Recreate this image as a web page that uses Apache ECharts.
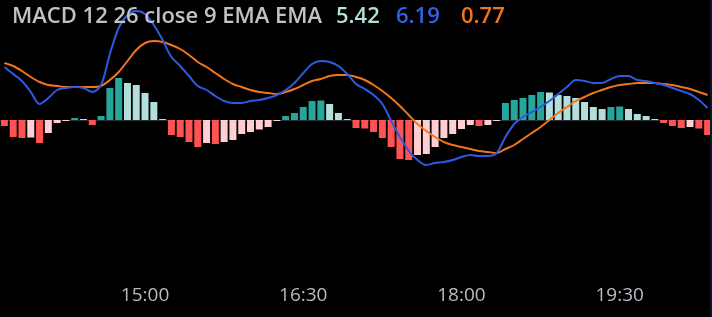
<!DOCTYPE html>
<html><head><meta charset="utf-8">
<script src="https://cdn.jsdelivr.net/npm/echarts@6/dist/echarts.min.js"></script>
<style>html,body{margin:0;padding:0;background:#000;}#c{width:712px;height:317px;}</style>
</head><body><div id="c"></div>
<script>
const times = ['13:40','13:45','13:50','13:55','14:00','14:05','14:10','14:15','14:20','14:25','14:30','14:35','14:40','14:45','14:50','14:55',
'15:00','15:05','15:10','15:15','15:20','15:25','15:30','15:35','15:40','15:45','15:50','15:55',
'16:00','16:05','16:10','16:15','16:20','16:25','16:30','16:35','16:40','16:45','16:50','16:55',
'17:00','17:05','17:10','17:15','17:20','17:25','17:30','17:35','17:40','17:45','17:50','17:55',
'18:00','18:05','18:10','18:15','18:20','18:25','18:30','18:35','18:40','18:45','18:50','18:55',
'19:00','19:05','19:10','19:15','19:20','19:25','19:30','19:35','19:40','19:45','19:50','19:55',
'20:00','20:05','20:10','20:15','20:20'];
const tickLabels = ['15:00','16:30','18:00','19:30'];
const histogram = [-0.6,-1.7,-1.8,-1.75,-2.3,-1.3,-0.3,-0.1,0.2,0.06,
-0.5,0.4,3.2,4.2,3.7,3.5,2.7,1.8,0.05,-1.5,
-1.7,-2.2,-2.7,-2.3,-2.4,-2.2,-2.0,-1.4,-1.2,-0.95,
-0.7,-0.1,0.4,0.7,1.3,1.9,1.95,1.6,0.7,0.05,
-0.8,-0.85,-1.2,-1.8,-2.7,-3.9,-4.0,-3.5,-3.4,-2.7,
-1.8,-1.4,-0.9,-0.5,-0.6,-0.5,-0.1,1.7,2.0,2.2,
2.5,2.8,2.75,2.5,2.4,2.2,1.8,1.3,1.1,1.3,
1.35,1.1,0.6,0.4,0.05,-0.3,-0.6,-0.8,-0.7,-0.85,-1.5];
const macdLine = [5.3,4.6,3.9,2.8,1.6,2.2,3.0,3.2,3.3,3.2,
2.8,3.5,6.6,9.2,10.5,10.9,10.6,9.5,8.0,6.3,
5.4,4.4,3.4,3.0,2.4,1.9,1.7,1.7,1.9,2.0,
2.2,2.5,3.0,3.7,4.7,5.6,5.9,5.8,5.4,4.6,
3.6,3.1,2.5,1.6,-0.1,-1.7,-3.1,-4.0,-4.5,-4.3,
-4.2,-4.0,-3.7,-3.5,-3.6,-3.6,-3.3,-1.7,-0.4,0.3,
0.8,1.3,1.9,2.6,3.3,4.0,3.9,3.7,3.7,4.1,
4.4,4.4,4.0,3.9,3.7,3.5,3.2,2.9,2.6,2.0,1.2];
const signalLine = [5.7,5.4,4.9,4.3,3.8,3.5,3.4,3.3,3.3,3.3,
3.3,3.4,4.0,4.8,5.9,7.0,7.7,7.9,7.8,7.5,
7.1,6.5,5.8,5.3,4.7,4.1,3.6,3.3,3.0,2.8,
2.7,2.6,2.8,3.1,3.5,3.9,4.1,4.4,4.5,4.5,
4.3,4.0,3.5,2.9,2.2,1.4,0.5,-0.4,-1.1,-1.7,
-2.2,-2.5,-2.7,-2.9,-3.1,-3.2,-3.3,-2.9,-2.5,-1.9,
-1.3,-0.7,0.0,0.7,1.3,1.9,2.3,2.7,3.0,3.3,
3.5,3.6,3.7,3.7,3.7,3.6,3.5,3.3,3.1,2.8,2.5];
const legendTitle = 'MACD 12 26 close 9 EMA EMA';
const legendValues = ['5.42','6.19','0.77'];

const C_GROW_UP = '#26a69a', C_FALL_UP = '#b2dfdb', C_GROW_DN = '#ffcdd2', C_FALL_DN = '#ff5252';
const barData = histogram.map((v, i) => {
  const prev = i > 0 ? histogram[i - 1] : v;
  let col;
  if (v >= 0) col = v >= prev ? C_GROW_UP : C_FALL_UP;
  else col = v < prev ? C_FALL_DN : C_GROW_DN;
  if (i === 0) col = C_FALL_DN;
  return { value: v, itemStyle: { color: col } };
});

const chart = echarts.init(document.getElementById('c'), null, { renderer: 'canvas' });
chart.setOption({
  backgroundColor: '#000000',
  animation: false,
  grid: { left: 0, width: 712, top: 10, height: 262 },
  xAxis: {
    type: 'category', data: times, boundaryGap: true,
    axisLine: { show: true, lineStyle: { color: '#2c2f37', width: 1 } },
    axisTick: { show: false },
    splitLine: { show: false },
    axisLabel: {
      color: '#b8bbc2', fontSize: 19, fontFamily: 'Open Sans', margin: 14,
      interval: (idx, val) => tickLabels.includes(val),
      formatter: v => tickLabels.includes(v) ? v : ''
    }
  },
  yAxis: { type: 'value', min: -15.2, max: 11, show: false, splitLine: { show: false } },
  series: [
    { type: 'bar', data: barData, barWidth: 7, barMinHeight: 1, z: 1 },
    { type: 'line', data: signalLine, symbol: 'none', smooth: 0.3, z: 3,
      lineStyle: { color: '#f0751b', width: 2 } },
    { type: 'line', data: macdLine, symbol: 'none', smooth: 0.3, z: 4,
      lineStyle: { color: '#2f5ae0', width: 2 } }
  ],
  graphic: [
    { type: 'text', left: 12, top: 6, z: 10,
      style: { text: legendTitle, fill: '#c0c2c8', font: '600 22px "Open Sans"' } },
    { type: 'text', left: 336, top: 6, z: 10,
      style: { text: legendValues[0], fill: '#b2dfdb', font: '600 22px "Open Sans"' } },
    { type: 'text', left: 396, top: 6, z: 10,
      style: { text: legendValues[1], fill: '#3560e0', font: '600 22px "Open Sans"' } },
    { type: 'text', left: 461, top: 6, z: 10,
      style: { text: legendValues[2], fill: '#f0751b', font: '600 22px "Open Sans"' } },
    { type: 'rect', shape: { x: 710, y: 0, width: 2, height: 317 }, z: 10,
      style: { fill: '#0b1530' } }
  ]
});
</script></body></html>
